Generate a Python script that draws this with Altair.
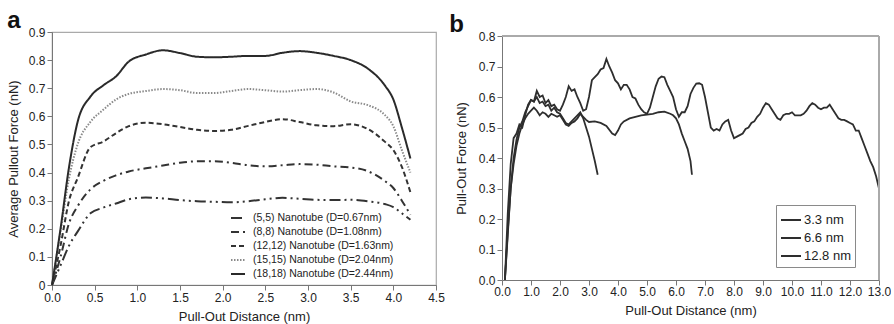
import altair as alt
import pandas as pd

FONT = "Liberation Sans"

# ---------------- Panel a data ----------------
a_x = [0.0, 0.1, 0.2, 0.3, 0.45, 0.6, 0.75, 0.9, 1.1, 1.3, 1.5, 1.7, 1.9,
       2.1, 2.3, 2.5, 2.7, 2.9, 3.1, 3.3, 3.5, 3.7, 3.9, 4.0, 4.1, 4.2]
a_5_5 = [0.0, 0.07, 0.14, 0.19, 0.255, 0.275, 0.29, 0.305, 0.311, 0.308, 0.302, 0.298, 0.296,
         0.294, 0.298, 0.305, 0.31, 0.307, 0.303, 0.302, 0.303, 0.298, 0.288, 0.277, 0.255, 0.232]
a_8_8 = [0.0, 0.10, 0.22, 0.28, 0.34, 0.37, 0.39, 0.404, 0.415, 0.425, 0.435, 0.44, 0.44,
         0.435, 0.426, 0.422, 0.426, 0.43, 0.428, 0.422, 0.418, 0.405, 0.37, 0.345, 0.30, 0.25]
a_12_12 = [0.0, 0.14, 0.30, 0.38, 0.49, 0.51, 0.54, 0.565, 0.577, 0.572, 0.562, 0.552, 0.548,
           0.552, 0.566, 0.58, 0.59, 0.58, 0.568, 0.565, 0.572, 0.555, 0.51, 0.48, 0.42, 0.33]
a_15_15 = [0.0, 0.19, 0.38, 0.50, 0.58, 0.623, 0.66, 0.68, 0.69, 0.697, 0.693, 0.683, 0.683,
           0.69, 0.697, 0.693, 0.688, 0.693, 0.697, 0.685, 0.653, 0.64, 0.605, 0.565, 0.48, 0.40]
a_18_18 = [0.0, 0.20, 0.42, 0.58, 0.67, 0.71, 0.742, 0.795, 0.82, 0.835, 0.825, 0.812, 0.81,
           0.812, 0.815, 0.815, 0.826, 0.832, 0.826, 0.815, 0.80, 0.77, 0.71, 0.66, 0.56, 0.45]
a_names = ["(5,5) Nanotube (D=0.67nm)", "(8,8) Nanotube (D=1.08nm)",
           "(12,12) Nanotube (D=1.63nm)", "(15,15) Nanotube (D=2.04nm)",
           "(18,18) Nanotube (D=2.44nm)"]
a_colors = ["#333333", "#333333", "#333333", "#8a8a8a", "#2a2a2a"]
a_dashes = [[11, 4, 2, 4, 2, 4], [8, 4, 2, 4], [5, 3], [1.5, 1.5], [1, 0]]
a_xticks = [0.0, 0.5, 1.0, 1.5, 2.0, 2.5, 3.0, 3.5, 4.0, 4.5]
a_yticks = [0.0, 0.1, 0.2, 0.3, 0.4, 0.5, 0.6, 0.7, 0.8, 0.9]

# ---------------- Panel b data ----------------
b_x_33 = [0.1, 0.2, 0.3, 0.4, 0.5, 0.6, 0.7, 0.8, 0.9, 1.0, 1.1, 1.2, 1.3, 1.4, 1.5, 1.6, 1.7,
          1.8, 1.9, 2.0, 2.1, 2.2, 2.3, 2.4, 2.5, 2.6, 2.7, 2.8, 2.9, 3.0, 3.1, 3.2, 3.3]
b_y_33 = [0.0, 0.15, 0.30, 0.40, 0.46, 0.50, 0.52, 0.55, 0.57, 0.59, 0.585, 0.60, 0.58, 0.585,
          0.57, 0.575, 0.555, 0.565, 0.55, 0.545, 0.53, 0.515, 0.51, 0.52, 0.53, 0.54, 0.55,
          0.53, 0.50, 0.47, 0.43, 0.39, 0.345]
b_x_66 = [0.1, 0.2, 0.3, 0.4, 0.5, 0.6, 0.7, 0.8, 0.9, 1.0, 1.1, 1.2, 1.3, 1.4, 1.5, 1.6, 1.7,
          1.8, 1.9, 2.0, 2.1, 2.2, 2.3, 2.4, 2.5, 2.6, 2.7, 2.8, 2.9, 3.0, 3.2, 3.4, 3.6, 3.8,
          3.9, 4.0, 4.1, 4.2, 4.4, 4.6, 4.8, 5.0, 5.2, 5.4, 5.6, 5.8, 5.9, 6.0, 6.1, 6.2, 6.3,
          6.4, 6.5, 6.55]
b_y_66 = [0.0, 0.16, 0.30, 0.38, 0.44, 0.48, 0.51, 0.53, 0.545, 0.555, 0.565, 0.555, 0.54,
          0.55, 0.545, 0.535, 0.545, 0.54, 0.535, 0.54, 0.525, 0.51, 0.505, 0.515, 0.52, 0.53,
          0.545, 0.535, 0.525, 0.518, 0.52, 0.515, 0.505, 0.48, 0.475, 0.49, 0.51, 0.52, 0.53,
          0.535, 0.54, 0.542, 0.545, 0.55, 0.552, 0.545, 0.54, 0.53, 0.51, 0.48, 0.455, 0.43,
          0.39, 0.345]
b_x_128 = [0.1, 0.2, 0.3, 0.4, 0.5, 0.6, 0.7, 0.8, 0.9, 1.0, 1.1, 1.2, 1.3, 1.4, 1.5, 1.6,
           1.7, 1.8, 1.9, 2.0, 2.1, 2.2, 2.3, 2.4, 2.5, 2.6, 2.7, 2.8, 2.9, 3.0, 3.1, 3.2, 3.3,
           3.4, 3.5, 3.6, 3.7, 3.8, 3.9, 4.0, 4.1, 4.2, 4.3, 4.4, 4.5, 4.6, 4.7, 4.8, 4.9, 5.0,
           5.1, 5.2, 5.3, 5.4, 5.5, 5.6, 5.7, 5.8, 5.9, 6.0, 6.1, 6.2, 6.3, 6.4, 6.5, 6.6, 6.7,
           6.8, 6.9, 7.0, 7.1, 7.2, 7.3, 7.4, 7.5, 7.6, 7.7, 7.8, 7.9, 8.0, 8.1, 8.2, 8.3, 8.4,
           8.5, 8.6, 8.7, 8.8, 8.9, 9.0, 9.1, 9.2, 9.3, 9.4, 9.5, 9.6, 9.7, 9.8, 9.9, 10.0,
           10.1, 10.2, 10.3, 10.4, 10.5, 10.6, 10.7, 10.8, 10.9, 11.0, 11.1, 11.2, 11.3, 11.4,
           11.5, 11.6, 11.7, 11.8, 11.9, 12.0, 12.1, 12.2, 12.3, 12.4, 12.5, 12.6, 12.7, 12.8,
           12.9, 13.0]
b_y_128 = [0.0, 0.22, 0.38, 0.465, 0.48, 0.51, 0.50, 0.54, 0.575, 0.59, 0.585, 0.62, 0.60,
           0.605, 0.58, 0.59, 0.57, 0.575, 0.56, 0.555, 0.575, 0.60, 0.635, 0.62, 0.625, 0.60,
           0.58, 0.555, 0.56, 0.60, 0.655, 0.665, 0.675, 0.69, 0.695, 0.725, 0.70, 0.68, 0.655,
           0.645, 0.625, 0.64, 0.64, 0.625, 0.60, 0.595, 0.575, 0.56, 0.55, 0.545, 0.565, 0.60,
           0.635, 0.66, 0.667, 0.665, 0.64, 0.62, 0.60, 0.56, 0.535, 0.55, 0.55, 0.57, 0.61,
           0.63, 0.644, 0.645, 0.64, 0.60, 0.55, 0.50, 0.49, 0.495, 0.49, 0.51, 0.52, 0.525,
           0.49, 0.465, 0.47, 0.475, 0.48, 0.495, 0.50, 0.515, 0.52, 0.535, 0.545, 0.565, 0.58,
           0.575, 0.56, 0.545, 0.53, 0.525, 0.54, 0.545, 0.545, 0.55, 0.54, 0.54, 0.54, 0.545,
           0.555, 0.57, 0.58, 0.575, 0.565, 0.56, 0.565, 0.565, 0.575, 0.56, 0.545, 0.53, 0.525,
           0.525, 0.52, 0.515, 0.51, 0.49, 0.49, 0.465, 0.44, 0.415, 0.39, 0.37, 0.34, 0.30]
b_names = ["3.3 nm", "6.6 nm", "12.8 nm"]
b_xticks = [0.0, 1.0, 2.0, 3.0, 4.0, 5.0, 6.0, 7.0, 8.0, 9.0, 10.0, 11.0, 12.0, 13.0]
b_yticks = [0.0, 0.1, 0.2, 0.3, 0.4, 0.5, 0.6, 0.7, 0.8]
b_xmax = 13.0
b_ymax = 0.8

# ---------------- Build tables ----------------
rows_a = []
for name, ys in zip(a_names, [a_5_5, a_8_8, a_12_12, a_15_15, a_18_18]):
    for xv, yv in zip(a_x, ys):
        rows_a.append({"series": name, "dist": xv, "force": yv})
df_a = pd.DataFrame(rows_a)

rows_b = []
for name, xs, ys in zip(b_names, [b_x_33, b_x_66, b_x_128], [b_y_33, b_y_66, b_y_128]):
    for xv, yv in zip(xs, ys):
        rows_b.append({"curve": name, "dist_b": xv, "force_b": yv})
df_b = pd.DataFrame(rows_b)

axis_common = dict(
    grid=False, domainColor="#777777", tickColor="#777777", tickSize=5,
    labelFont=FONT, titleFont=FONT, labelFontSize=12, titleFontSize=13,
    labelColor="#222222", titleColor="#222222", titleFontWeight="normal",
    labelOverlap=False, labelFlush=False,
)

title_common = dict(anchor="start", fontSize=24, font=FONT, fontWeight="bold",
                    offset=-7, color="#111111")

legend_a = alt.Legend(
    title=None, orient="none", legendX=178, legendY=178, symbolType="stroke",
    symbolSize=196, symbolStrokeWidth=2, labelFont=FONT, labelFontSize=10.5,
    labelColor="#222222", rowPadding=0, padding=0, labelOffset=7,
)

chart_a = alt.Chart(df_a, title=alt.Title("a", **title_common)).mark_line(
    interpolate="monotone", strokeWidth=2
).encode(
    x=alt.X("dist:Q", scale=alt.Scale(domain=[0, 4.5], nice=False),
            axis=alt.Axis(values=a_xticks, format=".1f", title="Pull-Out Distance (nm)",
                          labelPadding=2, titlePadding=7, **axis_common)),
    y=alt.Y("force:Q", scale=alt.Scale(domain=[0, 0.9], nice=False),
            axis=alt.Axis(values=a_yticks, title="Average Pullout Force (nN)",
                          labelExpr="datum.value == 0 ? '0' : format(datum.value, '.1f')",
                          labelPadding=2, titlePadding=8, **axis_common)),
    color=alt.Color("series:N", scale=alt.Scale(domain=a_names, range=a_colors), legend=legend_a),
    strokeDash=alt.StrokeDash("series:N", scale=alt.Scale(domain=a_names, range=a_dashes),
                              legend=legend_a),
).properties(width=384, height=253)

legend_b = alt.Legend(
    title=None, orient="none", legendX=274, legendY=173, symbolType="stroke",
    symbolSize=400, symbolStrokeWidth=2, labelFont=FONT, labelFontSize=13,
    labelColor="#222222", rowPadding=0, padding=4, labelOffset=2,
    strokeColor="#8a8a8a", fillColor="white",
)

axis_bx = alt.Axis(values=b_xticks, format=".1f", title="Pull-Out Distance (nm)",
                   labelPadding=1, titlePadding=7, **axis_common)
axis_by = alt.Axis(values=b_yticks, format=".1f", title="Pull-Out Force (nN)",
                   labelPadding=2, titlePadding=10, **axis_common)
scale_bx = alt.Scale(domain=[0, b_xmax], nice=False)
scale_by = alt.Scale(domain=[0, b_ymax], nice=False, range=[248, 4])

lines_b = alt.Chart(df_b).mark_line(strokeWidth=1.8).encode(
    x=alt.X("dist_b:Q", scale=scale_bx, axis=axis_bx),
    y=alt.Y("force_b:Q", scale=scale_by, axis=axis_by),
    color=alt.Color("curve:N", scale=alt.Scale(domain=b_names,
                                               range=["#2e2e2e", "#2e2e2e", "#2e2e2e"]),
                    legend=legend_b),
    detail="curve:N",
)

frame_top = alt.Chart(df_b).mark_rule(color="#aaaaaa", strokeWidth=1.2).encode(
    x=alt.XDatum(0.0, type="quantitative", scale=scale_bx, axis=axis_bx),
    x2=alt.datum(b_xmax),
    y=alt.YDatum(b_ymax, type="quantitative", scale=scale_by, axis=axis_by),
)
frame_right = alt.Chart(df_b).mark_rule(color="#aaaaaa", strokeWidth=1.2).encode(
    x=alt.XDatum(b_xmax, type="quantitative", scale=scale_bx, axis=axis_bx),
    y=alt.YDatum(0.0, type="quantitative", scale=scale_by, axis=axis_by),
    y2=alt.datum(b_ymax),
)

chart_b = alt.layer(lines_b, frame_top, frame_right,
                    title=alt.Title("b", dx=-6, **title_common)).properties(
    width=377, height=248, view=alt.ViewBackground(stroke=None)
)

chart = alt.hconcat(chart_a, chart_b, spacing=4).resolve_scale(
    x="independent", y="independent", color="independent", strokeDash="independent"
).resolve_legend(color="independent", strokeDash="independent").configure(
    padding={"left": 6, "top": 8, "right": 0, "bottom": 0},
    background="white",
).configure_view(stroke="#aaaaaa", strokeWidth=1.2)

chart.save("out.html", embed_options={"renderer": "svg", "actions": False})
